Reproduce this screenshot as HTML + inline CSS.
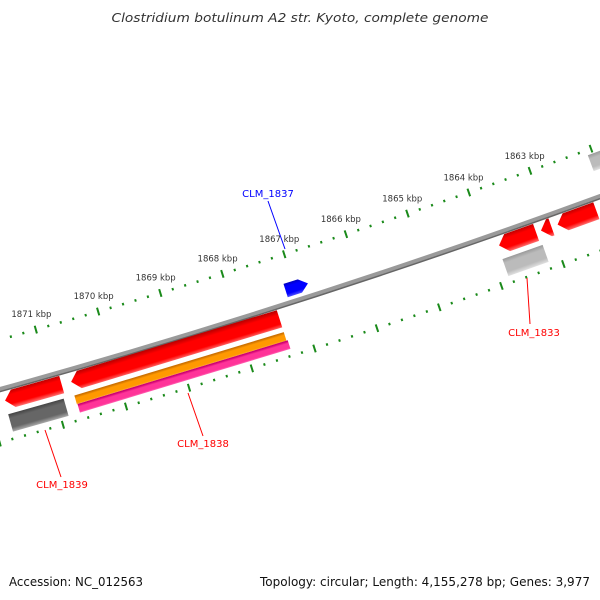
<!DOCTYPE html>
<html><head><meta charset="utf-8"><style>
html,body{margin:0;padding:0;background:#fff;}
svg{display:block;font-family:"DejaVu Sans","Liberation Sans",sans-serif;}
</style></head><body>
<svg id="map" width="600" height="600" viewBox="0 0 600 600" xmlns="http://www.w3.org/2000/svg">
<defs id="defs"></defs>
<rect width="600" height="600" fill="#fff"/>
<text x="300" y="22" text-anchor="middle" font-size="12" font-style="italic" fill="#333" textLength="377" lengthAdjust="spacingAndGlyphs">Clostridium botulinum A2 str. Kyoto, complete genome</text>
<g id="ticks"></g>
<g id="backbone"></g>
<g id="features"></g>
<g id="labels">
  <line x1="268" y1="201" x2="285" y2="249" stroke="#0000ff" stroke-width="1"/>
  <text x="268" y="197" text-anchor="middle" font-size="10" fill="#0000ff">CLM_1837</text>
  <line x1="527" y1="278" x2="530" y2="324" stroke="#ff0000" stroke-width="1"/>
  <text x="534" y="336" text-anchor="middle" font-size="10" fill="#ff0000">CLM_1833</text>
  <line x1="188" y1="393" x2="203" y2="436" stroke="#ff0000" stroke-width="1"/>
  <text x="203" y="447" text-anchor="middle" font-size="10" fill="#ff0000">CLM_1838</text>
  <line x1="45" y1="430" x2="61" y2="477" stroke="#ff0000" stroke-width="1"/>
  <text x="62" y="488" text-anchor="middle" font-size="10" fill="#ff0000">CLM_1839</text>
</g>
<text x="9" y="586" font-size="12" fill="#111" textLength="134" lengthAdjust="spacingAndGlyphs">Accession: NC_012563</text>
<text x="590" y="586" text-anchor="end" font-size="12" fill="#111" textLength="330" lengthAdjust="spacingAndGlyphs">Topology: circular; Length: 4,155,278 bp; Genes: 3,977</text>
</svg>
<script>
// feature data (kbp)
const featNames  = ["clm-1839","clm-1839-hit","clm-1838","clm-1838-orange","clm-1838-pink","clm-1837","clm-1833-a","clm-1833-b","clm-1833-c","clm-1833-hit","gray-top-right"];
const featStart  = [1871.75, 1871.76, 1870.70, 1870.71, 1870.70, 1867.15, 1863.83, 1863.15, 1862.88, 1863.85, 1862.08];
const featEnd    = [1870.85, 1870.88, 1867.37, 1867.37, 1867.35, 1866.79, 1863.23, 1862.98, 1862.25, 1863.20, 1861.40];
const featTrack  = ["o1","o2","o1","o2a","o2b","i1","o1","o1","o1","o2","i2"];
const featArrow  = ["left","none","left","none","none","right","left","left","left","none","none"];
const featColor  = ["red","dgray","red","orange","pink","blue","red","red","red","lgray","lgray"];
const tickLabels = [1863,1864,1865,1866,1867,1868,1869,1870,1871];

const CX=-2114, CY=-7212, R=7890, T0=1.2600, K0=1867, DA=0.008275;
const svgNS="http://www.w3.org/2000/svg";
function th(k){return T0+(k-K0)*DA;}
function pt(k,r){const a=th(k);return [CX+r*Math.cos(a), CY+r*Math.sin(a)];}
function mk(tag,attrs,parent){const e=document.createElementNS(svgNS,tag);for(const a in attrs)e.setAttribute(a,attrs[a]);parent.appendChild(e);return e;}
const tracks={o1:[R+3,R+21],o2:[R+26,R+44],o2a:[R+26,R+35],o2b:[R+35,R+44],i1:[R-20,R-6],i2:[R-43,R-26]};
const palettes={red:["#c00000","#ff0000","#ff7070"],dgray:["#444","#666","#aaa"],lgray:["#999","#bbb","#e0e0e0"],orange:["#cc7000","#ff9900","#ffb040"],pink:["#cc0070","#ff3399","#ff80c0"],blue:["#0000c0","#0000ff","#5050ff"]};

// backbone
const bb=document.getElementById('backbone');
function arcPath(k1,k2,r){const p1=pt(k1,r),p2=pt(k2,r);return `M${p1[0]},${p1[1]} A${r},${r} 0 0 0 ${p2[0]},${p2[1]}`;}
let e=mk('path',{d:arcPath(1873,1861,R-0.5),stroke:"#9a9a9a","stroke-width":4,fill:"none"},bb);


e=mk('path',{d:arcPath(1873,1861,R+2),stroke:"#666","stroke-width":1.5,fill:"none"},bb);



// ticks
const tg=document.getElementById('ticks');
function tickRing(rc,name,withLabels){
  for(let i=18610;i<=18730;i+=2){
    const k=i/10, major=(i%10===0);
    const len=major?8:2.5, w=major?2:2;
    const a=pt(k,rc-len/2), b=pt(k,rc+len/2);
    const l=mk('line',{x1:a[0],y1:a[1],x2:b[0],y2:b[1],stroke:"#1a8a1a","stroke-width":w},tg);
    
    
  }
  if(withLabels){
    tickLabels.forEach(k=>{
      const p=pt(k,rc-16);
      const t=mk('text',{x:p[0],y:p[1]+3,"text-anchor":"middle","font-size":"8.5",fill:"#333"},tg);
      t.textContent=k+" kbp";
      
      
    });
  }
}
tickRing(R-48,'inner-ruler',true);
tickRing(R+51,'outer-ruler',false);

// features
const fg=document.getElementById('features'), defs=document.getElementById('defs');
featNames.forEach((n,i)=>{
  const [r1,r2]=tracks[featTrack[i]], pal=palettes[featColor[i]];
  const ks=featStart[i], ke=featEnd[i], km=(ks+ke)/2, rm=(r1+r2)/2, ah=0.13;
  const g1=pt(km,r1), g2=pt(km,r2);
  const gid='grad'+i;
  const lg=mk('linearGradient',{id:gid,gradientUnits:"userSpaceOnUse",x1:g1[0],y1:g1[1],x2:g2[0],y2:g2[1]},defs);
  mk('stop',{offset:"0",  "stop-color":pal[0]},lg);
  mk('stop',{offset:"0.25","stop-color":pal[1]},lg);
  mk('stop',{offset:"0.75","stop-color":pal[1]},lg);
  mk('stop',{offset:"1",  "stop-color":pal[2]},lg);
  let pts;
  const hi=Math.max(ks,ke), lo=Math.min(ks,ke);
  if(featArrow[i]==="left"){ // tip at high kbp (left on screen)
    const b=Math.max(lo,hi-ah);
    pts=[pt(hi,rm),pt(b,r1),pt(lo,r1),pt(lo,r2),pt(b,r2)];
  } else if(featArrow[i]==="right"){
    const b=Math.min(hi,lo+ah);
    pts=[pt(lo,rm),pt(b,r2),pt(hi,r2),pt(hi,r1),pt(b,r1)];
  } else {
    pts=[pt(hi,r1),pt(lo,r1),pt(lo,r2),pt(hi,r2)];
  }
  const p=mk('polygon',{points:pts.map(q=>q[0].toFixed(2)+","+q[1].toFixed(2)).join(" "),fill:`url(#${gid})`},fg);
  
  
});
</script>
</body></html>
